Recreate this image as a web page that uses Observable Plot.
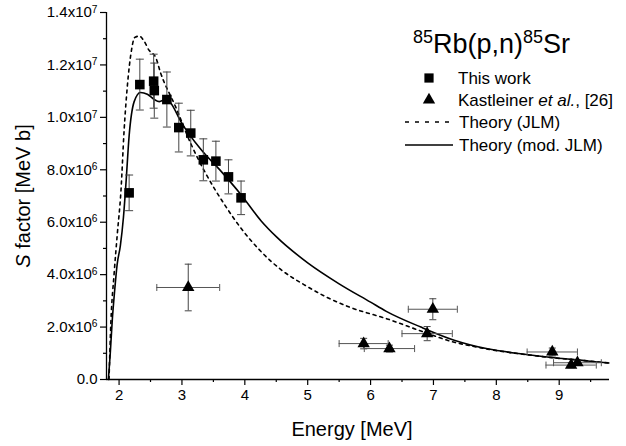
<!DOCTYPE html>
<html><head><meta charset="utf-8">
<script src="https://cdn.jsdelivr.net/npm/d3@7"></script>
<script src="https://cdn.jsdelivr.net/npm/@observablehq/plot@0.6"></script>
<style>body{margin:0;background:#fff} svg{display:block}</style>
</head><body><div id="chart"></div>
<script>
// ---- data ----
const thisWorkEnergy = [2.16, 2.33, 2.55, 2.56, 2.76, 2.95, 3.14, 3.34, 3.54, 3.74, 3.94];
const thisWorkS      = [7.12e6, 11.25e6, 11.38e6, 11.02e6, 10.68e6, 9.61e6, 9.40e6, 8.38e6, 8.33e6, 7.73e6, 6.93e6];
const thisWorkSErr   = [0.68e6, 0.97e6, 1.03e6, 1.05e6, 1.05e6, 0.93e6, 0.87e6, 0.80e6, 0.76e6, 0.65e6, 0.64e6];

const kastEnergy    = [3.10, 5.89, 6.30, 6.90, 6.99, 8.89, 9.19, 9.29];
const kastS         = [3.51e6, 1.37e6, 1.18e6, 1.75e6, 2.68e6, 1.05e6, 0.55e6, 0.64e6];
const kastSErr      = [0.89e6, 0.20e6, 0.13e6, 0.27e6, 0.40e6, 0.15e6, 0.10e6, 0.10e6];
const kastEnergyErr = [0.50, 0.39, 0.40, 0.40, 0.39, 0.40, 0.40, 0.38];

const jlmEnergy = [1.84, 1.87, 1.92, 1.97, 2.03, 2.08, 2.13, 2.19, 2.25, 2.32, 2.40, 2.48, 2.53, 2.58, 2.66, 2.90, 3.14, 3.38, 3.67, 3.93, 4.25, 4.57, 4.94, 5.31, 5.68, 6.28, 6.80, 7.33, 7.60, 7.86, 8.40, 8.90, 9.40, 9.79];
const jlmS      = [0, 2.2e6, 4.0e6, 5.5e6, 7.2e6, 9.5e6, 11.15e6, 12.45e6, 13.05e6, 13.1e6, 12.9e6, 12.55e6, 12.45e6, 12.3e6, 11.7e6, 10.4e6, 9.0e6, 7.85e6, 6.7e6, 5.8e6, 4.9e6, 4.2e6, 3.62e6, 3.13e6, 2.75e6, 2.3e6, 1.85e6, 1.42e6, 1.28e6, 1.16e6, 0.97e6, 0.83e6, 0.72e6, 0.63e6];

const modEnergy = [1.83, 1.86, 1.89, 1.93, 1.97, 2.02, 2.07, 2.11, 2.16, 2.24, 2.34, 2.45, 2.56, 2.64, 2.74, 2.82, 2.98, 3.30, 3.62, 3.94, 4.26, 4.50, 5.00, 5.50, 6.00, 6.25, 6.80, 7.33, 7.86, 8.39, 8.92, 9.40, 9.79];
const modS      = [0, 1.0e6, 2.2e6, 3.4e6, 4.4e6, 5.1e6, 6.2e6, 7.5e6, 9.3e6, 10.6e6, 10.95e6, 10.88e6, 10.68e6, 10.6e6, 10.68e6, 10.55e6, 9.85e6, 8.78e6, 7.95e6, 7.05e6, 6.05e6, 5.45e6, 4.45e6, 3.65e6, 2.95e6, 2.6e6, 2.0e6, 1.5e6, 1.17e6, 0.98e6, 0.83e6, 0.72e6, 0.63e6];

const xMajorTicks = [2, 3, 4, 5, 6, 7, 8, 9];
const xMinorTicks = [2.5, 3.5, 4.5, 5.5, 6.5, 7.5, 8.5, 9.5];
const yMajorTicks = [0, 2e6, 4e6, 6e6, 8e6, 10e6, 12e6, 14e6];
const yTickLabels = ["0.0", "2.0x10^6", "4.0x10^6", "6.0x10^6", "8.0x10^6", "1.0x10^7", "1.2x10^7", "1.4x10^7"];
const yMinorTicks = [1e6, 3e6, 5e6, 7e6, 9e6, 11e6, 13e6];

// ---- tables ----
const thisWork = thisWorkEnergy.map((e, i) => ({e, s: thisWorkS[i], err: thisWorkSErr[i]}));
const kast = kastEnergy.map((e, i) => ({e, s: kastS[i], err: kastSErr[i], ex: kastEnergyErr[i]}));
const jlm = jlmEnergy.map((e, i) => ({e, s: jlmS[i]}));
const mod = modEnergy.map((e, i) => ({e, s: modS[i]}));

const hCap = {draw(ctx, size) { const r = Math.sqrt(size / Math.PI); ctx.moveTo(-r, 0); ctx.lineTo(r, 0); }};
const vCap = {draw(ctx, size) { const r = Math.sqrt(size / Math.PI); ctx.moveTo(0, -r); ctx.lineTo(0, r); }};

const font = "'Liberation Sans', Arial, Helvetica, sans-serif";
const errColor = "#444";

const svg = Plot.plot({
  width: 626, height: 446,
  marginLeft: 106, marginRight: 17, marginTop: 12, marginBottom: 67,
  x: {domain: [1.8, 9.8]},
  y: {domain: [0, 1.4e7]},
  style: {fontFamily: font, fontSize: "15px", color: "black", background: "white", overflow: "visible"},
  marks: [
    Plot.axisX({ticks: xMajorTicks, tickSize: 6, tickPadding: 4, tickFormat: d => String(d), label: null, strokeWidth: 1.2}),
    Plot.axisX({ticks: xMinorTicks, tickSize: 3, tickFormat: () => "", label: null, strokeWidth: 1.2}),
    Plot.axisY({ticks: yMajorTicks, tickSize: 6, tickPadding: 3, tickFormat: d => yTickLabels[yMajorTicks.indexOf(d)], label: null, strokeWidth: 1.2}),
    Plot.axisY({ticks: yMinorTicks, tickSize: 3, tickFormat: () => "", label: null, strokeWidth: 1.2}),
    Plot.ruleY([0], {strokeWidth: 1.3}),
    Plot.ruleX([1.8], {strokeWidth: 1.3}),
    // theory curves
    Plot.line(jlm, {x: "e", y: "s", curve: "monotone-x", stroke: "black", strokeWidth: 1.6, strokeDasharray: "3,4"}),
    Plot.line(mod, {x: "e", y: "s", curve: "monotone-x", stroke: "black", strokeWidth: 1.6}),
    // this work error bars
    Plot.ruleX(thisWork, {x: "e", y1: d => d.s - d.err, y2: d => d.s + d.err, stroke: errColor, strokeWidth: 1}),
    Plot.dot(thisWork, {x: "e", y: d => d.s - d.err, symbol: hCap, r: 4, stroke: errColor, fill: "none", strokeWidth: 1}),
    Plot.dot(thisWork, {x: "e", y: d => d.s + d.err, symbol: hCap, r: 4, stroke: errColor, fill: "none", strokeWidth: 1}),
    // Kastleiner error bars
    Plot.ruleX(kast, {x: "e", y1: d => d.s - d.err, y2: d => d.s + d.err, stroke: errColor, strokeWidth: 1}),
    Plot.dot(kast, {x: "e", y: d => d.s - d.err, symbol: hCap, r: 3.5, stroke: errColor, fill: "none", strokeWidth: 1}),
    Plot.dot(kast, {x: "e", y: d => d.s + d.err, symbol: hCap, r: 3.5, stroke: errColor, fill: "none", strokeWidth: 1}),
    Plot.ruleY(kast, {y: "s", x1: d => d.e - d.ex, x2: d => d.e + d.ex, stroke: "#555", strokeWidth: 1}),
    Plot.dot(kast, {x: d => d.e - d.ex, y: "s", symbol: vCap, r: 3.5, stroke: "#555", fill: "none", strokeWidth: 1}),
    Plot.dot(kast, {x: d => d.e + d.ex, y: "s", symbol: vCap, r: 3.5, stroke: "#555", fill: "none", strokeWidth: 1}),
    // markers
    Plot.dot(thisWork, {x: "e", y: "s", symbol: "square", r: 5.4, fill: "black", stroke: "none"}),
    Plot.dot(kast, {x: "e", y: "s", symbol: "triangle", r: 4.6, fill: "black", stroke: "none"})
  ]
});

// superscript exponents in the y tick labels
d3.select(svg).selectAll('g[aria-label="y-axis tick label"] text').each(function () {
  const m = this.textContent.match(/^(.*)\^(\d+)$/);
  if (m) {
    const t = d3.select(this);
    t.text(m[1]);
    t.append("tspan").attr("dy", "-0.45em").attr("font-size", "0.68em").text(m[2]);
  }
});

const root = d3.select(svg);
// axis titles
root.append("text").attr("x", 352).attr("y", 436).attr("text-anchor", "middle")
  .attr("font-family", font).attr("font-size", 20).attr("fill", "black").text("Energy [MeV]");
const yl = root.append("text").attr("transform", "translate(30,196) rotate(-90)").attr("text-anchor", "middle")
  .attr("font-family", font).attr("font-size", 20).attr("fill", "black");
yl.append("tspan").attr("font-style", "italic").text("S");
yl.append("tspan").text(" factor [MeV b]");

// title
const title = root.append("text").attr("x", 413).attr("y", 53).attr("text-anchor", "start")
  .attr("font-family", font).attr("font-size", 27).attr("fill", "black");
title.append("tspan").attr("font-size", 18).attr("dy", -10).text("85");
title.append("tspan").attr("dy", 10).text("Rb(p,n)");
title.append("tspan").attr("font-size", 18).attr("dy", -10).text("85");
title.append("tspan").attr("dy", 10).text("Sr");

// legend
const lg = root.append("g").attr("font-family", font).attr("font-size", 17).attr("fill", "black").attr("text-anchor", "start");
const rows = [78, 100, 122, 145];
lg.append("path").attr("d", d3.symbol(d3.symbolSquare, 85)()).attr("transform", `translate(429,${rows[0]})`).attr("fill", "black");
lg.append("path").attr("d", d3.symbol(d3.symbolTriangle, 66)()).attr("transform", `translate(429,${rows[1]})`).attr("fill", "black");
lg.append("line").attr("x1", 405).attr("x2", 453).attr("y1", rows[2]).attr("y2", rows[2]).attr("stroke", "black").attr("stroke-width", 1.3).attr("stroke-dasharray", "4,6");
lg.append("line").attr("x1", 405).attr("x2", 453).attr("y1", rows[3]).attr("y2", rows[3]).attr("stroke", "black").attr("stroke-width", 1.6);
lg.append("text").attr("x", 458).attr("y", rows[0]).attr("dy", "0.36em").text("This work");
const kt = lg.append("text").attr("x", 458).attr("y", rows[1]).attr("dy", "0.36em");
kt.append("tspan").text("Kastleiner ");
kt.append("tspan").attr("font-style", "italic").text("et al.");
kt.append("tspan").text(", [26]");
lg.append("text").attr("x", 459).attr("y", rows[2]).attr("dy", "0.36em").text("Theory (JLM)");
lg.append("text").attr("x", 459).attr("y", rows[3]).attr("dy", "0.36em").text("Theory (mod. JLM)");

document.getElementById("chart").appendChild(svg);
</script>
</body></html>
